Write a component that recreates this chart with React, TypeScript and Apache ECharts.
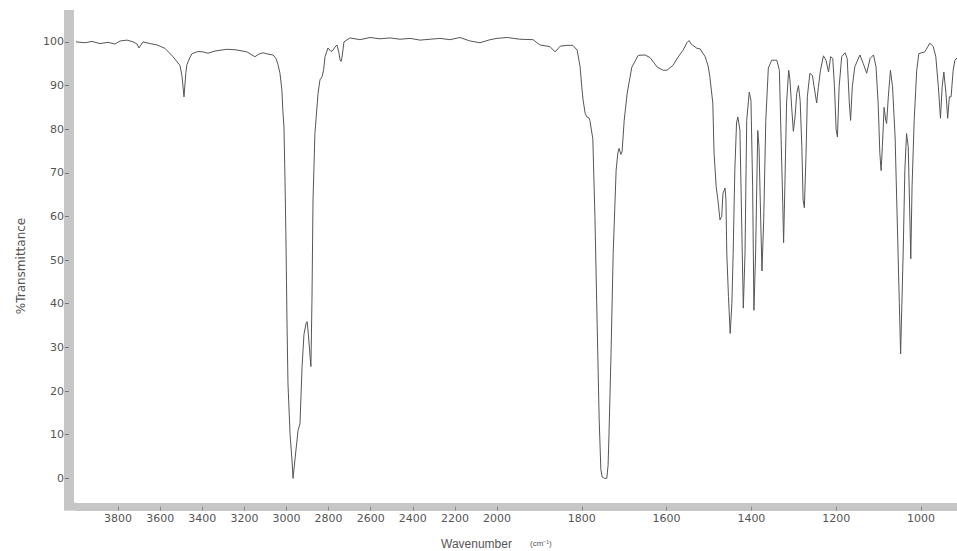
import React, { useEffect, useRef } from "react";
import * as echarts from "echarts";

const wavenumbers = [
  4000, 3957, 3924, 3886, 3848, 3815, 3791, 3758, 3729, 3710, 3701, 3682, 3648, 3615, 3577, 3539, 3506, 3496, 3487, 3478,
  3473, 3458, 3449, 3420, 3397, 3373, 3340, 3283, 3245, 3221, 3188, 3164, 3150, 3131, 3112, 3088, 3064, 3050, 3041, 3031,
  3022, 3017, 3012, 3007, 3003, 3000, 2998, 2993, 2983, 2974, 2969, 2960, 2945, 2936, 2926, 2917, 2907, 2902, 2898, 2893,
  2884, 2879, 2874, 2865, 2850, 2841, 2831, 2824, 2817, 2803, 2789, 2779, 2770, 2760, 2751, 2746, 2741, 2736, 2727, 2698,
  2651, 2603, 2556, 2508, 2461, 2413, 2366, 2318, 2271, 2224, 2176, 2128, 2081, 2033, 2000,
  1976, 1946, 1915, 1899, 1875, 1863, 1851, 1835, 1821, 1811, 1804, 1800, 1797, 1792, 1788, 1783, 1781, 1774, 1769, 1764,
  1759, 1755, 1752, 1746, 1741, 1738, 1736, 1731, 1726, 1719, 1715, 1712, 1708, 1705, 1700, 1693, 1682, 1667, 1651, 1639,
  1622, 1608, 1599, 1585, 1573, 1561, 1552, 1547, 1542, 1538, 1528, 1521, 1509, 1502, 1498, 1491, 1488, 1483, 1479, 1474,
  1470, 1467, 1462, 1460, 1458, 1454, 1450, 1446, 1443, 1439, 1435, 1432, 1427, 1423, 1419, 1415, 1411, 1405, 1401, 1397,
  1394, 1390, 1385, 1382, 1378, 1375, 1371, 1366, 1360, 1352, 1340, 1334, 1330, 1326, 1324, 1321, 1317, 1312, 1309, 1305,
  1301, 1297, 1293, 1289, 1285, 1281, 1278, 1275, 1271, 1268, 1262, 1256, 1252, 1246, 1242, 1237, 1230, 1224, 1218, 1213,
  1208, 1204, 1200, 1197, 1193, 1187, 1179, 1174, 1169, 1166, 1162, 1156, 1144, 1136, 1128, 1120, 1112, 1106, 1101, 1097,
  1094, 1091, 1087, 1083, 1081, 1077, 1072, 1067, 1061, 1056, 1051, 1048, 1046, 1042, 1038, 1034, 1030, 1026, 1024, 1021,
  1016, 1010, 1005, 991, 979, 971, 965, 959, 954, 950, 946, 941, 937, 933, 929, 924, 920, 915,
];

const transmittance = [
  100.0, 99.8, 100.1, 99.6, 99.9, 99.5, 100.2, 100.4, 100.0, 99.5, 98.6, 100.0, 99.6, 99.3, 98.5, 96.6, 94.6, 92.0, 87.4, 93.0,
  94.8, 96.5, 97.3, 97.8, 97.7, 97.4, 97.9, 98.3, 98.2, 98.0, 97.7, 97.0, 96.6, 97.2, 97.5, 97.2, 97.0, 96.2, 94.9, 92.8,
  89.0, 84.0, 80.5, 68.0, 56.0, 45.0, 37.0, 21.7, 10.0, 4.2, 0.0, 4.2, 11.0, 12.5, 25.6, 33.0, 35.5, 35.9, 34.0, 31.0,
  25.6, 40.9, 63.8, 79.0, 88.2, 91.3, 92.0, 93.5, 96.6, 98.6, 97.8, 98.1, 98.8, 99.3, 97.5, 96.0, 95.5, 96.5, 100.0, 100.9,
  100.5, 101.0, 100.7, 100.9, 100.6, 100.8, 100.4, 100.6, 100.8, 100.5, 101.0, 100.2, 99.8, 100.5, 100.8,
  101.0, 100.6, 100.5, 99.3, 98.9, 97.7, 99.0, 99.2, 99.2, 98.1, 94.3, 89.7, 86.7, 83.6, 82.8, 82.6, 82.0, 77.8, 60.0, 36.3,
  13.4, 2.0, 0.3, 0.0, 0.0, 3.0, 9.5, 28.6, 51.5, 70.6, 74.5, 75.6, 74.2, 74.8, 82.0, 88.2, 94.2, 96.9, 97.0, 96.4,
  94.2, 93.5, 93.5, 94.6, 96.5, 98.1, 99.8, 100.3, 99.5, 99.2, 98.5, 98.4, 96.6, 94.5, 92.0, 86.0, 74.5, 66.8, 63.8, 59.2,
  60.0, 65.3, 66.5, 63.8, 51.6, 41.6, 33.2, 40.0, 51.5, 70.6, 81.4, 82.8, 79.8, 59.2, 39.0, 51.6, 82.0, 88.5, 86.6, 66.8,
  38.5, 51.6, 79.7, 76.0, 59.2, 47.5, 59.0, 82.0, 94.0, 95.8, 95.8, 93.5, 78.2, 63.0, 54.0, 66.8, 86.0, 93.5, 91.3, 85.1,
  79.5, 82.8, 88.2, 90.0, 86.6, 76.0, 63.8, 62.0, 74.5, 87.4, 92.8, 92.3, 89.7, 86.0, 89.6, 93.5, 96.8, 95.8, 93.1, 96.6,
  96.2, 89.7, 79.8, 78.2, 89.7, 96.6, 97.5, 96.2, 86.0, 82.0, 89.7, 94.3, 97.0, 95.0, 92.8, 96.2, 97.0, 94.3, 86.0, 74.5,
  70.5, 76.0, 85.0, 82.0, 81.3, 87.4, 93.5, 89.7, 78.2, 59.2, 40.0, 28.5, 36.3, 51.6, 70.6, 79.0, 76.0, 59.0, 50.3, 66.8,
  82.0, 93.5, 97.3, 97.7, 99.7, 98.9, 96.6, 89.7, 82.5, 89.7, 93.1, 88.2, 82.5, 87.4, 87.4, 93.5, 95.8, 96.3,
];

const xTicksHigh = [3800, 3600, 3400, 3200, 3000, 2800, 2600, 2400, 2200, 2000];
const xTicksLow = [1800, 1600, 1400, 1200, 1000];
const yTicks = [0, 10, 20, 30, 40, 50, 60, 70, 80, 90, 100];

export default function App() {
  const ref = useRef<HTMLDivElement>(null);

  useEffect(() => {
    if (!ref.current) return;
    const chart = echarts.init(ref.current, null, { renderer: "svg" });
    const pts = wavenumbers.map((w, i) => [w, transmittance[i]]);
    const high = pts.filter((p) => p[0] >= 2000);
    const low = pts.filter((p) => p[0] <= 2000);
    const font = "DejaVu Sans";
    const band = "#c6c6c6";
    const textColor = "#555";
    const yMin = -6.5;
    const yMax = 107.3;
    const plain = (v: number) => String(v);

    const xAxisCommon = {
      type: "value",
      inverse: true,
      axisLine: { show: true, onZero: false, lineStyle: { color: band, width: 8, cap: "butt" } },
      splitLine: { show: false },
      axisLabel: { color: textColor, fontFamily: font, fontSize: 11, margin: 6, formatter: plain },
      axisTick: { show: true, length: 4, lineStyle: { color: "#8a8a8a", width: 1 } },
    };

    chart.setOption({
      animation: false,
      backgroundColor: "#ffffff",
      grid: [
        { left: 76, top: 10, width: 421, bottom: 44.3 },
        { left: 497, top: 10, right: 0, bottom: 44.3 },
      ],
      xAxis: [
        {
          ...xAxisCommon,
          gridIndex: 0,
          min: 2000,
          max: 4000,
          axisLabel: { ...xAxisCommon.axisLabel, customValues: xTicksHigh },
          axisTick: { ...xAxisCommon.axisTick, customValues: xTicksHigh },
        },
        {
          ...xAxisCommon,
          gridIndex: 1,
          min: 915,
          max: 2000,
          axisLabel: { ...xAxisCommon.axisLabel, customValues: xTicksLow },
          axisTick: { ...xAxisCommon.axisTick, customValues: xTicksLow },
        },
      ],
      yAxis: [
        {
          type: "value",
          gridIndex: 0,
          min: yMin,
          max: yMax,
          offset: 7,
          axisLine: { show: true, onZero: false, lineStyle: { color: band, width: 10, cap: "butt" } },
          splitLine: { show: false },
          axisTick: { show: true, length: 4, customValues: yTicks, lineStyle: { color: "#777", width: 1 } },
          axisLabel: { customValues: yTicks, color: textColor, fontFamily: font, fontSize: 11, margin: 5, formatter: plain },
        },
        {
          type: "value",
          gridIndex: 1,
          min: yMin,
          max: yMax,
          show: false,
        },
      ],
      series: [
        {
          type: "line",
          xAxisIndex: 0,
          yAxisIndex: 0,
          data: high,
          showSymbol: false,
          symbol: "none",
          lineStyle: { color: "#555", width: 1 },
        },
        {
          type: "line",
          xAxisIndex: 1,
          yAxisIndex: 1,
          data: low,
          showSymbol: false,
          symbol: "none",
          lineStyle: { color: "#555", width: 1 },
        },
      ],
      graphic: [
        {
          type: "rect",
          shape: { x: 64, y: 502.7, width: 13, height: 8 },
          style: { fill: band },
        },
        {
          type: "text",
          x: 21,
          y: 266,
          rotation: Math.PI / 2,
          style: {
            text: "%Transmittance",
            font: `12px '${font}'`,
            fill: textColor,
            align: "center",
            verticalAlign: "middle",
          },
        },
        {
          type: "text",
          x: 441,
          y: 544,
          style: {
            text: "Wavenumber",
            font: "12px 'Liberation Sans'",
            fill: textColor,
            align: "left",
            verticalAlign: "middle",
          },
        },
        {
          type: "text",
          x: 530,
          y: 543,
          style: {
            text: "(cm⁻¹)",
            font: "8px 'Liberation Sans'",
            fill: textColor,
            align: "left",
            verticalAlign: "middle",
          },
        },
      ],
    });

    return () => chart.dispose();
  }, []);

  return (
    <div
      ref={ref}
      style={{ position: "fixed", left: 0, top: 0, width: 957, height: 551, background: "#fff" }}
    />
  );
}
